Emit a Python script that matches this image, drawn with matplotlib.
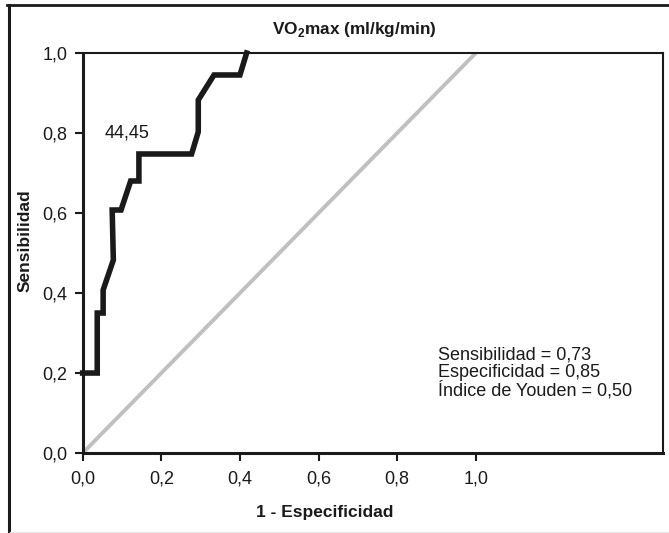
import matplotlib
matplotlib.use("Agg")
import matplotlib.pyplot as plt
from matplotlib.lines import Line2D

# ROC curve vertices (1 - specificity, sensitivity)
fpr = [0.0, 0.037, 0.037, 0.052, 0.052, 0.078, 0.075, 0.0975, 0.122, 0.143, 0.143, 0.277, 0.294, 0.294, 0.334, 0.40, 0.417]
tpr = [0.2, 0.2, 0.35, 0.35, 0.4075, 0.4825, 0.6075, 0.6075, 0.68, 0.68, 0.7475, 0.7475, 0.803, 0.8825, 0.945, 0.945, 1.0]
ref_x = [0.0, 1.0]
ref_y = [0.0, 1.0]
tick_vals = [0.0, 0.2, 0.4, 0.6, 0.8, 1.0]
tick_labels = ["0,0", "0,2", "0,4", "0,6", "0,8", "1,0"]
cut_label = "44,45"
stats_lines = ["Sensibilidad = 0,73", "Especificidad = 0,85", "Índice de Youden = 0,50"]

plt.rcParams['font.family'] = ['Liberation Sans', 'DejaVu Sans']

fig = plt.figure(figsize=(6.69, 5.33), dpi=100)
ax = fig.add_axes([0.1236, 0.150, 0.991 - 0.1236, 0.9006 - 0.150])

ax.plot(ref_x, ref_y, color='#c0c0c0', lw=2.8, solid_capstyle='butt', zorder=2)
ax.plot(fpr, tpr, color='#1a1a1a', lw=4.0, solid_joinstyle='miter', zorder=3, clip_on=False)

ax.set_xlim(0, 1.476)
ax.set_ylim(0, 1.0)
ax.set_xticks(tick_vals)
ax.set_xticklabels(tick_labels)
ax.set_yticks(tick_vals)
ax.set_yticklabels(tick_labels)
ax.tick_params(direction='out', length=5.8, width=1.5, labelsize=13, color='#1a1a1a', labelcolor='#1a1a1a')
ax.tick_params(axis='x', pad=7)
ax.tick_params(axis='y', pad=5)

for s in ['left', 'bottom']:
    ax.spines[s].set_linewidth(2.2)
    ax.spines[s].set_color('#1a1a1a')
for s in ['top', 'right']:
    ax.spines[s].set_linewidth(1.5)
    ax.spines[s].set_color('#1a1a1a')

ax.text(0.469, 1 + 23/400, "VO$_\\mathregular{2}$max (ml/kg/min)", transform=ax.transAxes,
        fontsize=12.4, fontweight='bold', ha='center', va='center', color='#1a1a1a')
ax.set_xlabel("1 - Especificidad", fontsize=12.5, fontweight='bold', color='#1a1a1a')
ax.xaxis.set_label_coords(0.4175, -0.1475)
ax.xaxis.label.set_va('center')
ax.set_ylabel("Sensibilidad", fontsize=12.5, fontweight='bold', color='#1a1a1a')
ax.yaxis.set_label_coords(-0.0994, 0.53)
ax.yaxis.label.set_va('center')

ax.text(0.057, 0.8, cut_label, fontsize=13, color='#1a1a1a', ha='left', va='center')
ax.text(0.905, 0.20, "\n".join(stats_lines), fontsize=13, color='#1a1a1a', ha='left', va='center', linespacing=1.0)

# outer border lines
fig.add_artist(Line2D([8.6/669, 8.6/669], [0, 1 - 5/533], transform=fig.transFigure, color='#1a1a1a', lw=2.2))
fig.add_artist(Line2D([7.0/669, 1], [1 - 5/533, 1 - 5/533], transform=fig.transFigure, color='#1a1a1a', lw=2.0))
fig.add_artist(Line2D([10/669, 1], [1.5/533, 1.5/533], transform=fig.transFigure, color='#e6e6e6', lw=1.0))

fig.savefig("out.png", dpi=100)
